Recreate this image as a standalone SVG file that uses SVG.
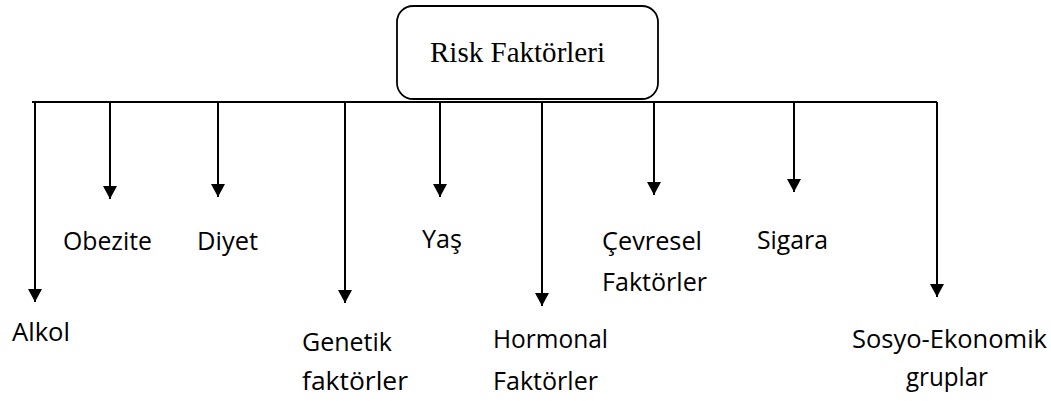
<svg xmlns="http://www.w3.org/2000/svg" width="1051" height="401" viewBox="0 0 1051 401">
  <style>
    .lbl { font-family: "Open Sans", "Liberation Sans", sans-serif; font-size: 26px; fill: #000; }
    .title { font-family: "Liberation Serif", "Times New Roman", serif; font-size: 29px; fill: #000; }
    .conn { stroke: #000; stroke-width: 2; fill: none; }
  </style>
  <defs>
    <marker id="arr" markerUnits="userSpaceOnUse" markerWidth="14" markerHeight="14" viewBox="0 0 14 14" refX="13" refY="7" orient="auto">
      <path d="M0,0 L13,7 L0,14 Z" fill="#000"/>
    </marker>
  </defs>
  <rect width="1051" height="401" fill="#fff"/>

  <g id="root">
    <rect x="397" y="6" width="261" height="93" rx="16" ry="16" fill="#fff" stroke="#000" stroke-width="1.8"/>
    <text class="title" x="430" y="62" textLength="175" lengthAdjust="spacingAndGlyphs">Risk Faktörleri</text>
  </g>

  <g id="connectors">
    <line class="conn" x1="32" y1="102" x2="937" y2="102"/>
    <line class="conn" x1="35" y1="102" x2="35" y2="302" marker-end="url(#arr)"/>
    <line class="conn" x1="110" y1="102" x2="110" y2="199" marker-end="url(#arr)"/>
    <line class="conn" x1="218" y1="102" x2="218" y2="197" marker-end="url(#arr)"/>
    <line class="conn" x1="345" y1="102" x2="345" y2="303" marker-end="url(#arr)"/>
    <line class="conn" x1="440" y1="102" x2="440" y2="197" marker-end="url(#arr)"/>
    <line class="conn" x1="542" y1="102" x2="542" y2="306" marker-end="url(#arr)"/>
    <line class="conn" x1="654" y1="102" x2="654" y2="195" marker-end="url(#arr)"/>
    <line class="conn" x1="794" y1="102" x2="794" y2="192" marker-end="url(#arr)"/>
    <line class="conn" x1="937" y1="102" x2="937" y2="297" marker-end="url(#arr)"/>
  </g>

  <g id="alkol"><text class="lbl" x="12" y="341" textLength="58" lengthAdjust="spacingAndGlyphs">Alkol</text></g>
  <g id="obezite"><text class="lbl" x="63" y="250" textLength="89" lengthAdjust="spacingAndGlyphs">Obezite</text></g>
  <g id="diyet"><text class="lbl" x="197" y="250" textLength="61" lengthAdjust="spacingAndGlyphs">Diyet</text></g>
  <g id="genetik">
    <text class="lbl" x="302" y="351" textLength="90" lengthAdjust="spacingAndGlyphs">Genetik</text>
    <text class="lbl" x="302" y="390" textLength="106" lengthAdjust="spacingAndGlyphs">faktörler</text>
  </g>
  <g id="yas"><text class="lbl" x="422" y="248" textLength="40" lengthAdjust="spacingAndGlyphs">Yaş</text></g>
  <g id="hormonal">
    <text class="lbl" x="493" y="348" textLength="115" lengthAdjust="spacingAndGlyphs">Hormonal</text>
    <text class="lbl" x="493" y="390" textLength="105" lengthAdjust="spacingAndGlyphs">Faktörler</text>
  </g>
  <g id="cevresel">
    <text class="lbl" x="602" y="250" textLength="100" lengthAdjust="spacingAndGlyphs">Çevresel</text>
    <text class="lbl" x="602" y="291" textLength="105" lengthAdjust="spacingAndGlyphs">Faktörler</text>
  </g>
  <g id="sigara"><text class="lbl" x="757" y="249" textLength="71" lengthAdjust="spacingAndGlyphs">Sigara</text></g>
  <g id="sosyo">
    <text class="lbl" x="852" y="348" textLength="195" lengthAdjust="spacingAndGlyphs">Sosyo-Ekonomik</text>
    <text class="lbl" x="906" y="386" textLength="82" lengthAdjust="spacingAndGlyphs">gruplar</text>
  </g>
</svg>
